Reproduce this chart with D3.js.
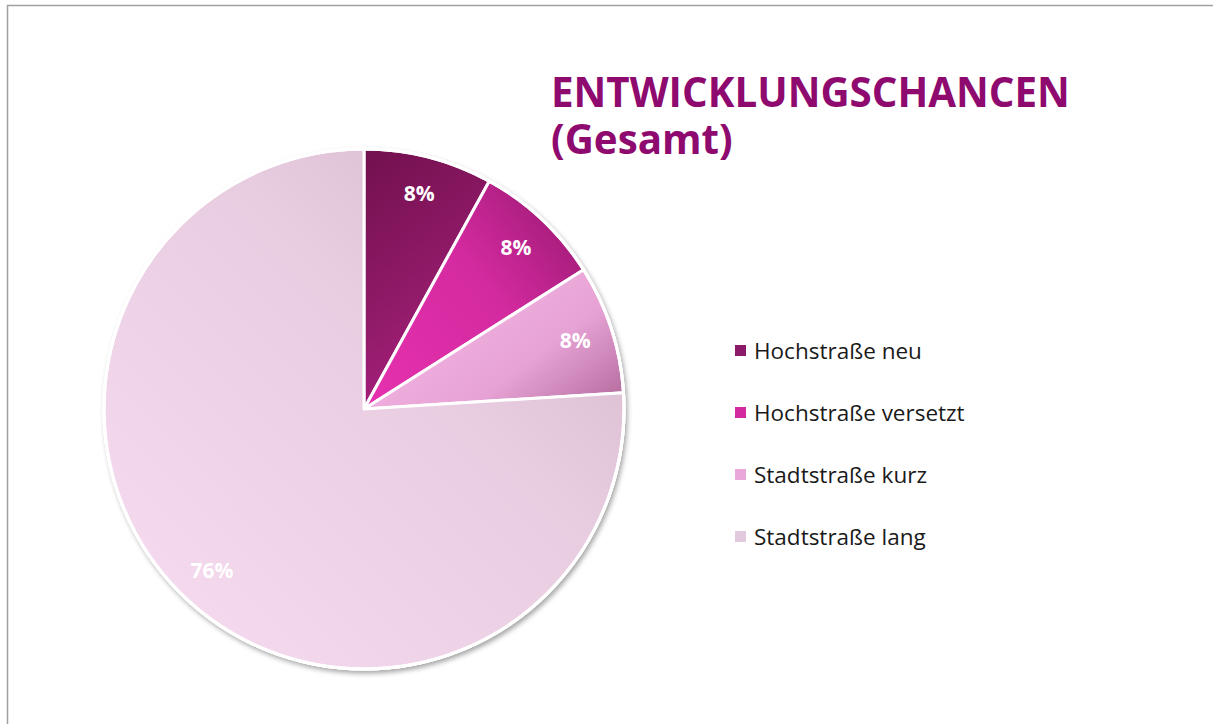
<!DOCTYPE html>
<html>
<head>
<meta charset="utf-8">
<script src="https://cdn.jsdelivr.net/npm/d3@7"></script>
<style>
  body { margin: 0; background: #fff; }
  svg { display: block; }
</style>
</head>
<body>
<div id="chart"></div>
<script>
const categories = ['Hochstraße neu', 'Hochstraße versetzt', 'Stadtstraße kurz', 'Stadtstraße lang'];
const values = [8, 8, 8, 76];
const swatchColors = ['#8c1a6a', '#d42aa0', '#eaa8da', '#e2cade'];
// gradient stops per slice: start, middle, end
const gradStops = [
  ['#72104e', '#901a68', '#a8207e'],
  ['#e631ae', '#d42aa0', '#a01b76'],
  ['#f7bae6', '#e6a2d4', '#b0679a'],
  ['#f8dcf1', '#e8cce0', '#d2b4c8']
];
const gradDirs = [
  { x1: 0, y1: 0, x2: 0.35, y2: 1 },
  { x1: 0, y1: 1, x2: 1, y2: 0.2 },
  { x1: 0, y1: 0.3, x2: 1, y2: 1 },
  { x1: 0, y1: 1, x2: 1, y2: 0 }
];
const titleLines = ['ENTWICKLUNGSCHANCEN', '(Gesamt)'];

const W = 1213, H = 724;
const cx = 364, cy = 409, R = 260;

const svg = d3.select('#chart').append('svg')
  .attr('width', W)
  .attr('height', H);

const defs = svg.append('defs');
const shadow = defs.append('filter').attr('id', 'shadow')
  .attr('x', '-10%').attr('y', '-10%').attr('width', '120%').attr('height', '120%');
shadow.append('feDropShadow')
  .attr('dx', 2).attr('dy', 3).attr('stdDeviation', 2.5)
  .attr('flood-color', '#000').attr('flood-opacity', 0.35);

gradStops.forEach((s, i) => {
  const g = defs.append('linearGradient').attr('id', 'grad' + i)
    .attr('x1', gradDirs[i].x1).attr('y1', gradDirs[i].y1)
    .attr('x2', gradDirs[i].x2).attr('y2', gradDirs[i].y2);
  g.append('stop').attr('offset', '0%').attr('stop-color', s[0]);
  g.append('stop').attr('offset', '60%').attr('stop-color', s[1]);
  g.append('stop').attr('offset', '100%').attr('stop-color', s[2]);
});

// frame
svg.append('rect')
  .attr('x', 7.5).attr('y', 5.5)
  .attr('width', 1400).attr('height', 900)
  .attr('fill', 'none')
  .attr('stroke', '#a0a0a0')
  .attr('stroke-width', 1.5);

const data = categories.map((c, i) => ({ name: c, value: values[i], i }));

const pie = d3.pie().value(d => d.value).sort(null);
const arcs = pie(data);
const arc = d3.arc().innerRadius(0).outerRadius(R);
const labelArc = d3.arc().innerRadius(222).outerRadius(222);

const g = svg.append('g').attr('transform', `translate(${cx}, ${cy})`);

// shadow base
g.append('circle')
  .attr('r', R + 1.5)
  .attr('fill', '#fff')
  .attr('filter', 'url(#shadow)');

g.selectAll('.slice')
  .data(arcs)
  .enter()
  .append('path')
  .attr('class', 'slice')
  .attr('d', arc)
  .attr('fill', d => `url(#grad${d.data.i})`)
  .attr('stroke', '#fff')
  .attr('stroke-width', 3)
  .attr('stroke-linejoin', 'round');

g.append('circle')
  .attr('r', R)
  .attr('fill', 'none')
  .attr('stroke', '#fff')
  .attr('stroke-width', 3);

g.selectAll('.lbl')
  .data(arcs)
  .enter()
  .append('text')
  .attr('class', 'lbl')
  .attr('transform', d => `translate(${labelArc.centroid(d)})`)
  .attr('text-anchor', 'middle')
  .attr('dy', '0.35em')
  .style('font-family', 'Open Sans, sans-serif')
  .style('font-weight', 'bold')
  .style('font-size', '21px')
  .style('fill', '#fff')
  .text(d => d.data.value + '%');

// title (one text block, two lines)
const title = svg.append('text')
  .attr('class', 'title')
  .attr('x', 551)
  .attr('y', 107)
  .style('font-family', 'Open Sans, sans-serif')
  .style('font-weight', 'bold')
  .style('font-size', '40.3px')
  .style('fill', '#8e0a6f');

title.selectAll('tspan')
  .data(titleLines)
  .enter()
  .append('tspan')
  .attr('x', 551)
  .attr('dy', (d, i) => i === 0 ? 0 : 47)
  .text(d => d);

// legend
const legend = svg.selectAll('.legend')
  .data(data)
  .enter()
  .append('g')
  .attr('class', 'legend')
  .attr('transform', d => `translate(735, ${351 + d.i * 62})`);

legend.append('rect')
  .attr('x', 0).attr('y', -6)
  .attr('width', 11).attr('height', 11)
  .attr('fill', d => swatchColors[d.i]);

legend.append('text')
  .attr('x', 19)
  .attr('y', 8)
  .style('font-family', 'Open Sans, sans-serif')
  .style('font-size', '22.5px')
  .style('fill', '#1a1a1a')
  .text(d => d.name);
</script>
</body>
</html>
